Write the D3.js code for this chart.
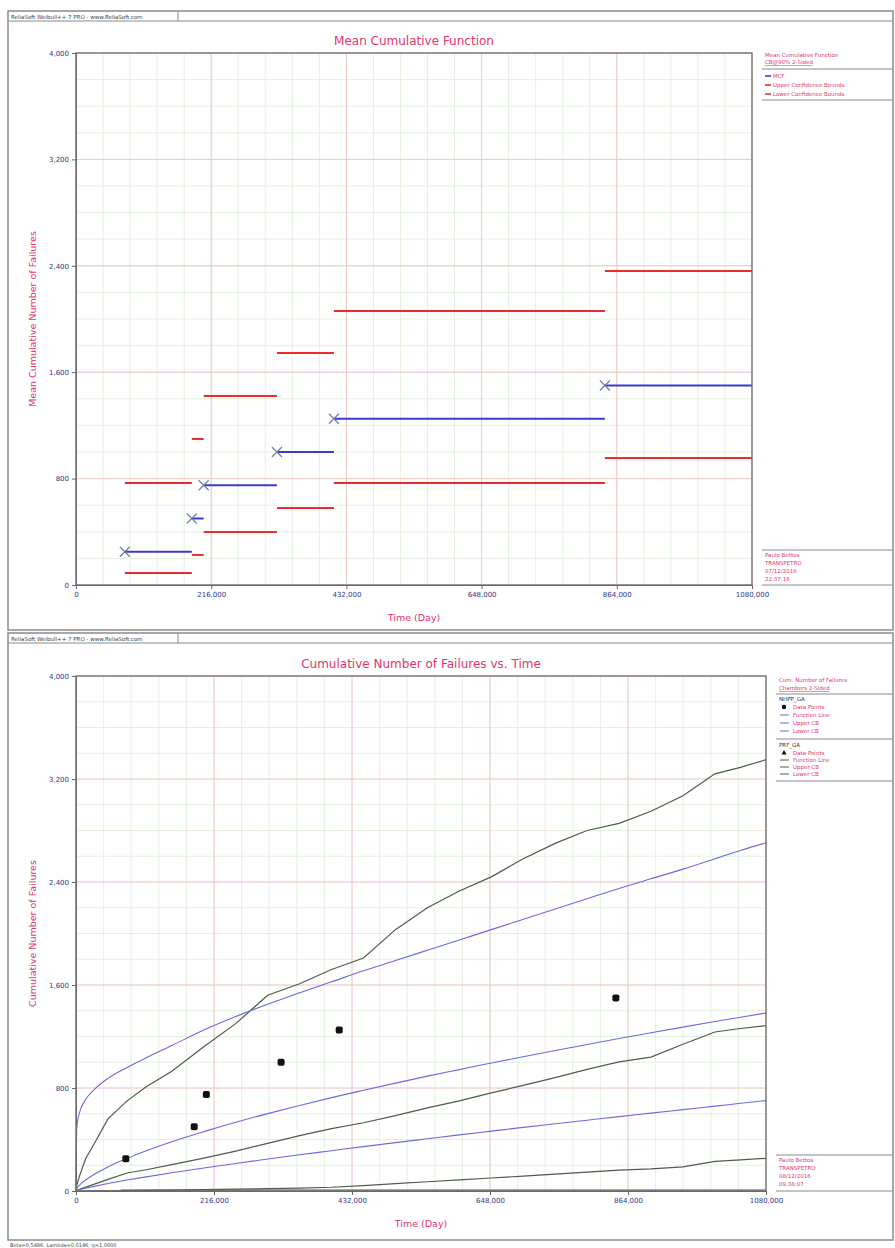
<!DOCTYPE html>
<html>
<head>
<meta charset="utf-8">
<script src="https://cdn.jsdelivr.net/npm/d3@7"></script>
<style>
  body { margin: 0; background: #fff; }
  svg { display: block; font-family: "DejaVu Sans", sans-serif; }
</style>
</head>
<body>
<div id="chart"></div>
<script>
// failure times (days) and mean cumulative function with its bounds
const failTimes = [78000, 185000, 204000, 321000, 412000, 845000];
const mcfValues = [250, 500, 750, 1000, 1250, 1500];
const mcfUpper = [767, 1098, 1421, 1744, 2060, 2361];
const mcfLower = [90, 226, 398, 579, 767, 955];

// cumulative failures (data points of the second chart)
const cumFailures = [250, 500, 750, 1000, 1250, 1500];

// fitted curves of the second chart, read at these times
const curveTimes = [0, 1000, 5000, 15000, 30000, 50000, 80000, 110000, 150000, 200000,
  250000, 300000, 350000, 400000, 450000, 500000, 550000, 600000, 650000, 700000,
  750000, 800000, 850000, 900000, 950000, 1000000, 1040000, 1080000];
const nhppLine = [0, 15, 42, 85, 134, 187, 254, 313, 383, 461, 534, 601, 664, 725,
  782, 838, 892, 943, 994, 1043, 1091, 1138, 1184, 1229, 1273, 1316, 1350, 1382];
const nhppUpper = [0, 480, 600, 710, 795, 875, 960, 1035, 1130, 1250, 1355, 1450, 1540, 1625,
  1710, 1790, 1870, 1950, 2030, 2110, 2190, 2270, 2350, 2425, 2500, 2580, 2645, 2705];
const nhppLower = [0, 2, 9, 22, 38, 58, 85, 110, 142, 179, 214, 248, 281, 313,
  345, 376, 406, 436, 465, 494, 522, 550, 578, 605, 632, 659, 681, 702];
const prfLine = [0, 3, 12, 30, 55, 90, 140, 165, 205, 255, 310, 370, 430, 485,
  530, 585, 645, 700, 762, 820, 880, 945, 1003, 1040, 1140, 1235, 1262, 1285];
const prfUpper = [0, 40, 110, 250, 380, 560, 700, 810, 930, 1120, 1300, 1520, 1610, 1720,
  1810, 2030, 2200, 2330, 2440, 2580, 2700, 2800, 2855, 2950, 3070, 3240, 3290, 3350];
const prfLower = [0, 0, 0, 0, 1, 2, 3, 5, 7, 10, 14, 18, 23, 29,
  42, 58, 72, 86, 101, 116, 131, 146, 162, 172, 188, 230, 242, 254];

const xTickValues = [0, 216000, 432000, 648000, 864000, 1080000];
const xTickLabels = ["0", "216,000", "432,000", "648,000", "864,000", "1080,000"];
const yTickValues = [0, 800, 1600, 2400, 3200, 4000];
const yTickLabels = ["0", "800", "1,600", "2,400", "3,200", "4,000"];

const width = 895;
const height = 1248;
const pink = "#e0366c";
const tickBlue = "#33338a";
const frameGray = "#8a8a8a";

const svg = d3.select("#chart")
  .append("svg")
  .attr("width", width)
  .attr("height", height);

svg.append("rect").attr("width", width).attr("height", height).attr("fill", "#fff");

function panelFrame(top, bottom, header) {
  svg.append("rect")
    .attr("x", 8).attr("y", top).attr("width", 885).attr("height", bottom - top)
    .attr("fill", "none").attr("stroke", frameGray).attr("stroke-width", 1.5);
  svg.append("line")
    .attr("x1", 8).attr("x2", 893).attr("y1", top + 10).attr("y2", top + 10)
    .attr("stroke", frameGray);
  svg.append("line")
    .attr("x1", 178).attr("x2", 178).attr("y1", top).attr("y2", top + 10)
    .attr("stroke", frameGray);
  svg.append("text")
    .attr("x", 11).attr("y", top + 7.5)
    .attr("font-size", 5.5).attr("fill", "#444")
    .text(header);
}

function plotBase(x, y, title, yLabel) {
  const [x0, x1] = x.range();
  const [y0, y1] = y.range();
  const g = svg.append("g");

  // minor grid
  g.append("g").selectAll("line")
    .data(d3.range(0, 1080001, 43200))
    .join("line")
      .attr("x1", d => x(d)).attr("x2", d => x(d))
      .attr("y1", y1).attr("y2", y0)
      .attr("stroke", "#dcefd6").attr("stroke-width", 0.8);
  g.append("g").selectAll("line")
    .data(d3.range(0, 4001, 200))
    .join("line")
      .attr("x1", x0).attr("x2", x1)
      .attr("y1", d => y(d)).attr("y2", d => y(d))
      .attr("stroke", "#dcefd6").attr("stroke-width", 0.8);
  // major grid
  g.append("g").selectAll("line")
    .data(xTickValues)
    .join("line")
      .attr("x1", d => x(d)).attr("x2", d => x(d))
      .attr("y1", y1).attr("y2", y0)
      .attr("stroke", "#f2c4c4").attr("stroke-width", 0.9);
  g.append("g").selectAll("line")
    .data(yTickValues)
    .join("line")
      .attr("x1", x0).attr("x2", x1)
      .attr("y1", d => y(d)).attr("y2", d => y(d))
      .attr("stroke", "#f2c4c4").attr("stroke-width", 0.9);

  svg.append("text")
    .attr("x", (x0 + x1) / 2).attr("y", y1 - 8)
    .attr("text-anchor", "middle").attr("font-size", 12).attr("fill", pink)
    .text(title);

  svg.append("text")
    .attr("transform", `translate(36,${(y0 + y1) / 2}) rotate(-90)`)
    .attr("text-anchor", "middle").attr("font-size", 9.5).attr("fill", pink)
    .text(yLabel);

  svg.append("text")
    .attr("x", (x0 + x1) / 2).attr("y", y0 + 36)
    .attr("text-anchor", "middle").attr("font-size", 9.5).attr("fill", pink)
    .text("Time (Day)");
}

function plotAxes(x, y) {
  const [x0, x1] = x.range();
  const [y0, y1] = y.range();
  const yAxis = svg.append("g")
    .attr("transform", `translate(${x0},0)`)
    .call(d3.axisLeft(y).tickValues(yTickValues).tickSize(4).tickPadding(3)
      .tickFormat((d, i) => yTickLabels[i]));
  const xAxis = svg.append("g")
    .attr("transform", `translate(0,${y0})`)
    .call(d3.axisBottom(x).tickValues(xTickValues).tickSize(4).tickPadding(3)
      .tickFormat((d, i) => xTickLabels[i]));
  [xAxis, yAxis].forEach(a => {
    a.attr("font-family", "DejaVu Sans").attr("font-size", 7);
    a.selectAll("text").attr("fill", tickBlue);
    a.selectAll("line").attr("stroke", "#666");
    a.select(".domain").attr("stroke", "#666");
  });
  svg.append("rect")
    .attr("x", x0).attr("y", y1).attr("width", x1 - x0).attr("height", y0 - y1)
    .attr("fill", "none").attr("stroke", "#6e6e6e").attr("stroke-width", 1.3);
}

function legendText(x, yy, txt, color, underline) {
  svg.append("text")
    .attr("x", x).attr("y", yy)
    .attr("font-size", 5.5).attr("fill", color || pink)
    .attr("text-decoration", underline ? "underline" : null)
    .text(txt);
}
function hline(x1, x2, yy, color, w) {
  svg.append("line")
    .attr("x1", x1).attr("x2", x2).attr("y1", yy).attr("y2", yy)
    .attr("stroke", color || frameGray).attr("stroke-width", w || 1);
}

// ---------------- top chart: Mean Cumulative Function
panelFrame(11, 630, "ReliaSoft Weibull++ 7 PRO - www.ReliaSoft.com");

const x1 = d3.scaleLinear().domain([0, 1080000]).range([76, 752]);
const y1 = d3.scaleLinear().domain([0, 4000]).range([585, 53]);

plotBase(x1, y1, "Mean Cumulative Function", "Mean Cumulative Number of Failures");

const steps = failTimes.map((t, i) => ({
  t0: t,
  t1: i < failTimes.length - 1 ? failTimes[i + 1] : 1080000,
  mcf: mcfValues[i], up: mcfUpper[i], lo: mcfLower[i]
}));

const stepG = svg.append("g");
["up", "lo"].forEach(k => {
  stepG.append("g").selectAll("line")
    .data(steps)
    .join("line")
      .attr("x1", d => x1(d.t0)).attr("x2", d => x1(d.t1))
      .attr("y1", d => y1(d[k])).attr("y2", d => y1(d[k]))
      .attr("stroke", "#ee2b2b").attr("stroke-width", 2);
});
stepG.append("g").selectAll("line")
  .data(steps)
  .join("line")
    .attr("x1", d => x1(d.t0)).attr("x2", d => x1(d.t1))
    .attr("y1", d => y1(d.mcf)).attr("y2", d => y1(d.mcf))
    .attr("stroke", "#3a3ad0").attr("stroke-width", 2);
stepG.append("g").selectAll("path")
  .data(steps)
  .join("path")
    .attr("transform", d => `translate(${x1(d.t0)},${y1(d.mcf)})`)
    .attr("d", "M-5,-5L5,5M-5,5L5,-5")
    .attr("stroke", "#6f7fa8").attr("stroke-width", 1.2).attr("fill", "none");

plotAxes(x1, y1);

// top legend
legendText(765, 57, "Mean Cumulative Function");
legendText(765, 64, "CB@90% 2-Sided", pink, true);
hline(762, 893, 69);
hline(765, 771, 76, "#3a3ad0", 1.6); legendText(773, 78, "MCF");
hline(765, 771, 85, "#ee2b2b", 1.6); legendText(773, 87, "Upper Confidence Bounds");
hline(765, 771, 94, "#ee2b2b", 1.6); legendText(773, 96, "Lower Confidence Bounds");
hline(762, 893, 100);

hline(762, 893, 550);
legendText(765, 557, "Paulo Bettos");
legendText(765, 565, "TRANSPETRO");
legendText(765, 573, "07/12/2016");
legendText(765, 581, "22:37:16");
hline(762, 893, 585);

// ---------------- bottom chart: Cumulative Number of Failures vs. Time
panelFrame(633, 1240, "ReliaSoft Weibull++ 7 PRO - www.ReliaSoft.com");

const x2 = d3.scaleLinear().domain([0, 1080000]).range([76, 766]);
const y2 = d3.scaleLinear().domain([0, 4000]).range([1191, 676]);

plotBase(x2, y2, "Cumulative Number of Failures vs. Time", "Cumulative Number of Failures");

const line2 = d3.line()
  .x(d => x2(d[0]))
  .y(d => y2(d[1]));

svg.append("line")
  .attr("x1", x2(70000)).attr("x2", x2(1080000))
  .attr("y1", y2(0) - 0.5).attr("y2", y2(0) - 0.5)
  .attr("stroke", "#8c8c8c").attr("stroke-width", 2.6);

const curves = [
  { v: prfUpper, c: "#4f5c49", w: 1.2 },
  { v: prfLine, c: "#4f5c49", w: 1.2 },
  { v: prfLower, c: "#4f5c49", w: 1.2 },
  { v: nhppUpper, c: "#6a6ae0", w: 1.1 },
  { v: nhppLine, c: "#6a6ae0", w: 1.1 },
  { v: nhppLower, c: "#6a6ae0", w: 1.1 }
];
svg.append("g").selectAll("path")
  .data(curves)
  .join("path")
    .attr("d", d => line2.curve(d.c === "#6a6ae0" ? d3.curveMonotoneX : d3.curveLinear)(curveTimes.map((t, i) => [t, d.v[i]])))
    .attr("fill", "none")
    .attr("stroke", d => d.c)
    .attr("stroke-width", d => d.w);

svg.append("g").selectAll("rect")
  .data(failTimes.map((t, i) => [t, cumFailures[i]]))
  .join("rect")
    .attr("x", d => x2(d[0]) - 3.5).attr("y", d => y2(d[1]) - 3.5)
    .attr("width", 7).attr("height", 7).attr("rx", 1.8)
    .attr("fill", "#111");

plotAxes(x2, y2);

// bottom legend
legendText(779, 682, "Cum. Number of Failures");
legendText(779, 690, "Chambers 2-Sided", pink, true);
hline(776, 893, 694);
legendText(779, 701, "NHPP_GA", "#333");
svg.append("circle").attr("cx", 784).attr("cy", 707).attr("r", 2.2).attr("fill", "#111");
legendText(793, 709, "Data Points");
hline(780, 789, 715, "#6a6ae0"); legendText(793, 717, "Function Line");
hline(780, 789, 723, "#6a6ae0"); legendText(793, 725, "Upper CB");
hline(780, 789, 731, "#6a6ae0"); legendText(793, 733, "Lower CB");
hline(776, 893, 739);
legendText(779, 747, "PRF_GA", "#333");
svg.append("path").attr("d", "M784,750L786.5,754.5L781.5,754.5Z").attr("fill", "#111");
legendText(793, 755, "Data Points");
hline(780, 789, 760, "#4f5c49"); legendText(793, 762, "Function Line");
hline(780, 789, 767, "#4f5c49"); legendText(793, 769, "Upper CB");
hline(780, 789, 774, "#4f5c49"); legendText(793, 776, "Lower CB");
hline(776, 893, 781);

hline(776, 893, 1155);
legendText(779, 1162, "Paulo Bettos");
legendText(779, 1170, "TRANSPETRO");
legendText(779, 1178, "08/12/2016");
legendText(779, 1186, "09:38:07");
hline(776, 893, 1191);

svg.append("text")
  .attr("x", 10).attr("y", 1246.5)
  .attr("font-size", 5).attr("fill", "#444")
  .text("Beta=0,5486; Lambda=0,0146; q=1,0000");
</script>
</body>
</html>
